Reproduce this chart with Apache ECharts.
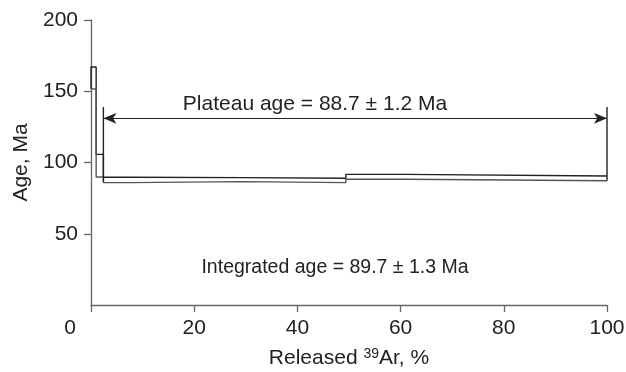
<!DOCTYPE html>
<html>
<head>
<meta charset="utf-8">
<script src="https://cdn.jsdelivr.net/npm/echarts@6/dist/echarts.min.js"></script>
<style>
  html, body { margin: 0; padding: 0; background: #fff; }
  #chart { width: 626px; height: 372px; }
</style>
</head>
<body>
<div id="chart"></div>
<script>
// step boundaries, cumulative released 39Ar (%)
const stepEdges = [0, 1.0, 2.4, 7.6, 29.4, 49.4, 60.9, 100];
// upper and lower age limits of each step (Ma)
const stepTop = [167, 105.7, 89.6, 89.4, 88.9, 91.7, 90.5];
const stepBottom = [151.6, 89.8, 85.9, 86.6, 85.9, 88.2, 87.2];

// plateau bracket
const plateauStart = 2.4;
const plateauEnd = 100;
const plateauArrowAge = 131;
const plateauTickTop = 139;

const xTicks = [0, 20, 40, 60, 80, 100];
const yTicks = [0, 50, 100, 150, 200];

const plateauText = 'Plateau age = 88.7 ± 1.2 Ma';
const integratedText = 'Integrated age = 89.7 ± 1.3 Ma';

// build the stepped envelope lines of the age spectrum
function envelope(ages) {
    const pts = [];
    for (let i = 0; i < ages.length; i++) {
        pts.push([stepEdges[i], ages[i]]);
        pts.push([stepEdges[i + 1], ages[i]]);
    }
    return pts;
}
const upper = [[stepEdges[0], stepBottom[0]]].concat(envelope(stepTop));
const lower = envelope(stepBottom);

const lastBottom = stepBottom[stepBottom.length - 1];
const textColor = '#222';
const fontFamily = '"Liberation Sans", Arial, sans-serif';
const fs = 21;

const chart = echarts.init(document.getElementById('chart'));

const option = {
    animation: false,
    grid: { left: 91, right: 19, top: 20, bottom: 67, outerBoundsMode: 'none', containLabel: false },
    textStyle: { fontFamily: fontFamily },
    xAxis: {
        type: 'value',
        min: xTicks[0],
        max: xTicks[xTicks.length - 1],
        interval: 20,
        splitLine: { show: false },
        axisLine: { lineStyle: { color: '#666', width: 1.3 } },
        axisTick: { show: true, length: 7, lineStyle: { color: '#666', width: 1.3 } },
        axisLabel: {
            color: textColor,
            fontSize: fs,
            margin: 13,
            formatter: v => v === 0 ? '{z|0}' : String(v),
            rich: { z: { fontSize: fs, color: textColor, padding: [0, 42, 0, 0] } }
        },
        name: '{n|Released }{s|39}{n|Ar, %}',
        nameLocation: 'middle',
        nameGap: 42,
        nameTextStyle: {
            rich: {
                n: { fontSize: fs, color: textColor, fontFamily: fontFamily },
                s: { fontSize: 14, color: textColor, fontFamily: fontFamily, verticalAlign: 'top', padding: [0, 0, 9, 0] }
            }
        }
    },
    yAxis: {
        type: 'value',
        min: yTicks[0],
        max: yTicks[yTicks.length - 1],
        interval: 50,
        splitLine: { show: false },
        axisLine: { show: true, lineStyle: { color: '#666', width: 1.3 } },
        axisTick: { show: true, length: 7, lineStyle: { color: '#666', width: 1.3 } },
        axisLabel: { color: textColor, fontSize: fs, margin: 13, showMinLabel: false },
        name: 'Age, Ma',
        nameLocation: 'middle',
        nameRotate: 90,
        nameGap: 57,
        nameTextStyle: { fontSize: fs, color: textColor }
    },
    series: [
        {
            name: 'upper',
            type: 'line',
            data: upper,
            symbol: 'none',
            lineStyle: { color: '#222', width: 1.4 }
        },
        {
            name: 'lower',
            type: 'line',
            data: lower,
            symbol: 'none',
            lineStyle: { color: '#555', width: 1.4 }
        },
        {
            name: 'plateau-left',
            type: 'line',
            data: [[plateauStart, plateauTickTop], [plateauStart, 86.5]],
            symbol: 'none',
            lineStyle: { color: '#222', width: 1.4 }
        },
        {
            name: 'plateau-right',
            type: 'line',
            data: [[plateauEnd, plateauTickTop], [plateauEnd, lastBottom]],
            symbol: 'none',
            lineStyle: { color: '#222', width: 1.4 },
            markLine: {
                silent: true,
                symbol: ['arrow', 'arrow'],
                symbolSize: [8, 13],
                label: { show: false },
                lineStyle: { color: '#222', width: 1, type: 'solid' },
                data: [[
                    { coord: [plateauStart, plateauArrowAge] },
                    { coord: [plateauEnd, plateauArrowAge] }
                ]]
            }
        }
    ],
    graphic: [
        {
            type: 'text',
            x: 315, y: 104,
            style: {
                text: plateauText,
                fontSize: fs, fontFamily: fontFamily, fill: textColor,
                align: 'center', verticalAlign: 'middle'
            }
        },
        {
            type: 'text',
            x: 335, y: 268,
            style: {
                text: integratedText,
                fontSize: 19.5, fontFamily: fontFamily, fill: textColor,
                align: 'center', verticalAlign: 'middle'
            }
        }
    ]
};

chart.setOption(option);
</script>
</body>
</html>
